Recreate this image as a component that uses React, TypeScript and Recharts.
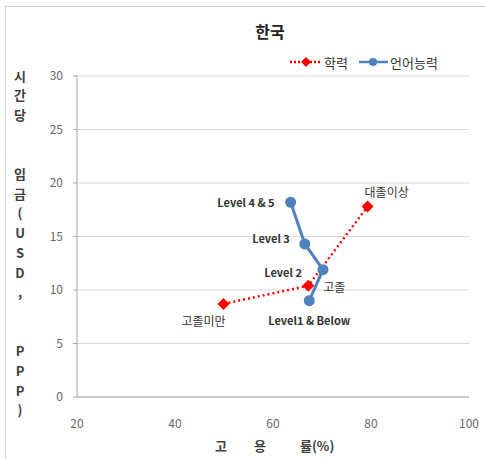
import { Scatter, ScatterChart, CartesianGrid, XAxis, YAxis } from "recharts";

// 학력 (education level)
const eduNames = ["고졸미만", "고졸", "대졸이상"];
const eduX = [49.9, 67.2, 79.3];
const eduY = [8.7, 10.4, 17.8];

// 언어능력 (literacy proficiency)
const litNames = ["Level 4 & 5", "Level 3", "Level 2", "Level1 & Below"];
const litX = [63.6, 66.5, 70.2, 67.4];
const litY = [18.2, 14.3, 11.9, 9.0];

const xTicks = [20, 40, 60, 80, 100];
const yTicks = [0, 5, 10, 15, 20, 25, 30];

const RED = "#ff0000";
const BLUE = "#4f81bd";
const FONT = '"Noto Sans CJK KR", "Noto Sans", sans-serif';
const Y_TITLE = "시간당  임금(USD,  PPP)";

const eduData = eduNames.map((name, i) => ({ name, x: eduX[i], y: eduY[i] }));
const litData = litNames.map((name, i) => ({ name, x: litX[i], y: litY[i] }));

// where each point's label sits relative to the marker
const labelPos: Record<string, { dx: number; dy: number; anchor: string; bold?: boolean }> = {
  고졸미만: { dx: -20, dy: 17, anchor: "middle" },
  고졸: { dx: 15, dy: 1, anchor: "start" },
  대졸이상: { dx: -3, dy: -15, anchor: "start" },
  "Level 4 & 5": { dx: -16, dy: 0, anchor: "end", bold: true },
  "Level 3": { dx: -15, dy: -6, anchor: "end", bold: true },
  "Level 2": { dx: -21, dy: 2, anchor: "end", bold: true },
  "Level1 & Below": { dx: 0, dy: 19, anchor: "middle", bold: true },
};

function PointLabel({ cx, cy, name }: { cx: number; cy: number; name: string }) {
  const p = labelPos[name];
  if (!p) return null;
  return (
    <text
      x={cx + p.dx}
      y={cy + p.dy}
      textAnchor={p.anchor as any}
      dominantBaseline="central"
      fontSize={p.bold ? 11 : 12}
      fontWeight={p.bold ? 700 : 400}
      fill="#333"
      fontFamily={FONT}
    >
      {name}
    </text>
  );
}

function Diamond(props: any) {
  const { cx, cy, payload } = props;
  const r = 6;
  return (
    <g>
      <path d={`M${cx},${cy - r}L${cx + r},${cy}L${cx},${cy + r}L${cx - r},${cy}Z`} fill={RED} />
      <PointLabel cx={cx} cy={cy} name={payload.name} />
    </g>
  );
}

function Dot(props: any) {
  const { cx, cy, payload } = props;
  return (
    <g>
      <circle cx={cx} cy={cy} r={5.5} fill={BLUE} />
      <PointLabel cx={cx} cy={cy} name={payload.name} />
    </g>
  );
}

function YTitle() {
  const chars = Array.from(Y_TITLE);
  return (
    <g>
      {chars.map((c, i) => (
        <text
          key={i}
          x={20}
          y={75 + i * 19.7}
          textAnchor="middle"
          dominantBaseline="central"
          fontSize={13}
          fontWeight={700}
          fill="#404040"
          fontFamily={FONT}
        >
          {c}
        </text>
      ))}
    </g>
  );
}

function XTitle() {
  return (
    <text
      y={445}
      dominantBaseline="central"
      fontSize={13}
      fontWeight={700}
      fill="#404040"
      fontFamily={FONT}
    >
      <tspan x={221} textAnchor="middle">고</tspan>
      <tspan x={260} textAnchor="middle">용</tspan>
      <tspan x={300}>률(%)</tspan>
    </text>
  );
}

function LegendBox() {
  return (
    <svg width={180} height={20} style={{ display: "block" }}>
      <line x1={2} y1={10} x2={34} y2={10} stroke={RED} strokeWidth={2.5} strokeDasharray="2 2" />
      <path d="M18,5L23,10L18,15L13,10Z" fill={RED} />
      <text x={36} y={10} dominantBaseline="central" fontSize={13} fill="#333" fontFamily={FONT}>
        학력
      </text>
      <line x1={71} y1={10} x2={100} y2={10} stroke={BLUE} strokeWidth={2.5} />
      <circle cx={85} cy={10} r={4} fill={BLUE} />
      <text x={102} y={10} dominantBaseline="central" fontSize={13} fill="#333" fontFamily={FONT}>
        언어능력
      </text>
    </svg>
  );
}

export default function App() {
  return (
    <div
      style={{
        position: "absolute",
        left: 0,
        top: 0,
        width: 485,
        height: 459,
        background: "#fff",
        overflow: "hidden",
        fontFamily: FONT,
      }}
    >
      <div
        style={{
          position: "absolute",
          left: 5,
          top: 6,
          width: 490,
          height: 470,
          borderLeft: "1px solid #d0d0d0",
          borderTop: "1px solid #d0d0d0",
        }}
      />
      <div
        style={{
          position: "absolute",
          left: 0,
          width: 540,
          top: 19,
          textAlign: "center",
          fontSize: 16,
          fontWeight: 700,
          color: "#222",
        }}
      >
        한국
      </div>
      <div style={{ position: "absolute", left: 288, top: 52, zIndex: 2 }}>
        <LegendBox />
      </div>
      <ScatterChart
        width={485}
        height={459}
        margin={{ top: 76, right: 16, bottom: 0, left: 0 }}
        style={{ position: "absolute", left: 0, top: 0 }}
      >
        <CartesianGrid horizontal vertical={false} stroke="#d9d9d9" />
        <XAxis
          type="number"
          dataKey="x"
          domain={[20, 100]}
          ticks={xTicks}
          height={62}
          tickLine={false}
          tickSize={0}
          tickMargin={22}
          axisLine={{ stroke: "#a6a6a6" }}
          tick={{ fill: "#666", fontSize: 12, fontFamily: FONT }}
          label={<XTitle />}
        />
        <YAxis
          type="number"
          dataKey="y"
          domain={[0, 30]}
          ticks={yTicks}
          width={77}
          tickSize={4}
          tickMargin={10}
          axisLine={{ stroke: "#a6a6a6" }}
          tickLine={{ stroke: "#a6a6a6" }}
          tick={{ fill: "#666", fontSize: 12, fontFamily: FONT }}
          label={<YTitle />}
        />
        <Scatter
          name="학력"
          data={eduData}
          fill={RED}
          line={{ stroke: RED, strokeWidth: 2.5, strokeDasharray: "2 3" }}
          shape={Diamond}
          isAnimationActive={false}
        />
        <Scatter
          name="언어능력"
          data={litData}
          fill={BLUE}
          line={{ stroke: BLUE, strokeWidth: 3 }}
          shape={Dot}
          isAnimationActive={false}
        />
      </ScatterChart>
    </div>
  );
}
